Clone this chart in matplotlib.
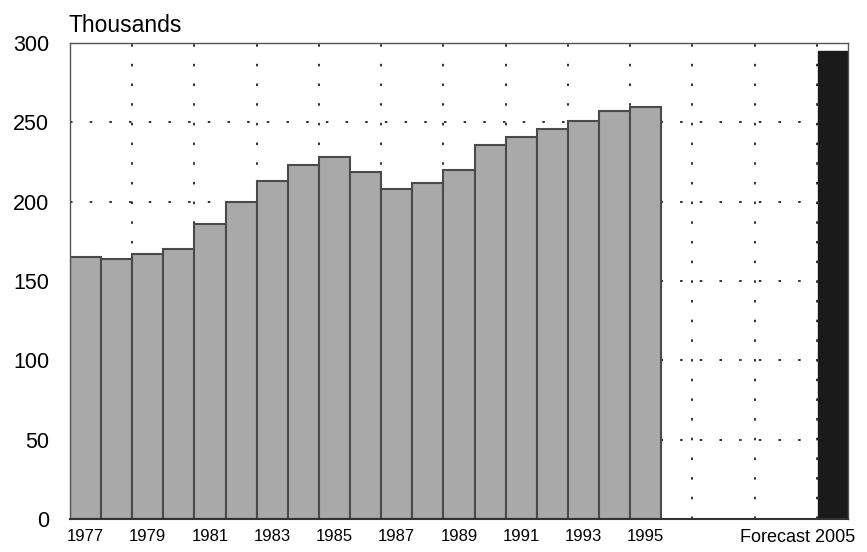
import matplotlib.pyplot as plt

plt.rcParams['font.family'] = ['Liberation Sans', 'DejaVu Sans']

years = ['1977', '1978', '1979', '1980', '1981', '1982', '1983', '1984', '1985', '1986',
         '1987', '1988', '1989', '1990', '1991', '1992', '1993', '1994', '1995']
values = [165, 164, 167, 170, 186, 200, 213, 223, 228, 219,
          208, 212, 220, 236, 241, 246, 251, 257, 260]
forecast_label = 'Forecast 2005'
forecast_value = 295
forecast_slot = 24

fig = plt.figure(figsize=(8.67, 5.52), dpi=100)
ax = fig.add_axes([0.0807, 0.0598, 0.8973, 0.8622])

x = list(range(len(years)))
ax.bar(x, values, width=1.0, color='#a9a9a9', edgecolor='#4a4a4a', linewidth=1.5, zorder=2)
ax.bar([forecast_slot], [forecast_value], width=0.95, color='#1a1a1a', edgecolor='#1a1a1a', zorder=2)

ax.set_xlim(-0.5, forecast_slot + 0.5)
ax.set_ylim(0, 300)

ax.set_xticks(x[::2])
ax.set_xticklabels(years[::2], fontsize=12)
ax.set_xticks([i + 0.5 for i in range(1, forecast_slot, 2)], minor=True)
ax.set_yticks(range(0, 301, 50))
ax.tick_params(axis='y', labelsize=15.5, length=0, pad=15)
ax.tick_params(axis='x', which='both', length=0, pad=7)

dots = (0, (1.4, 9.5))
ax.grid(axis='y', which='major', color='#222222', linestyle=dots, linewidth=1.3, zorder=0)
ax.grid(axis='x', which='minor', color='#222222', linestyle=dots, linewidth=1.3, zorder=0)
ax.set_axisbelow(True)

for s in ['top', 'right', 'left']:
    ax.spines[s].set_color('#555555')
    ax.spines[s].set_linewidth(1)
ax.spines['bottom'].set_color('#333333')
ax.spines['bottom'].set_linewidth(1.5)

ax.text(-0.002, 1.012, 'Thousands', transform=ax.transAxes, ha='left', va='bottom', fontsize=16.5)
ax.annotate(forecast_label, xy=(1, 0), xycoords='axes fraction', xytext=(5, -7),
            textcoords='offset points', ha='right', va='top', fontsize=13)

fig.savefig('out.png', dpi=100)
